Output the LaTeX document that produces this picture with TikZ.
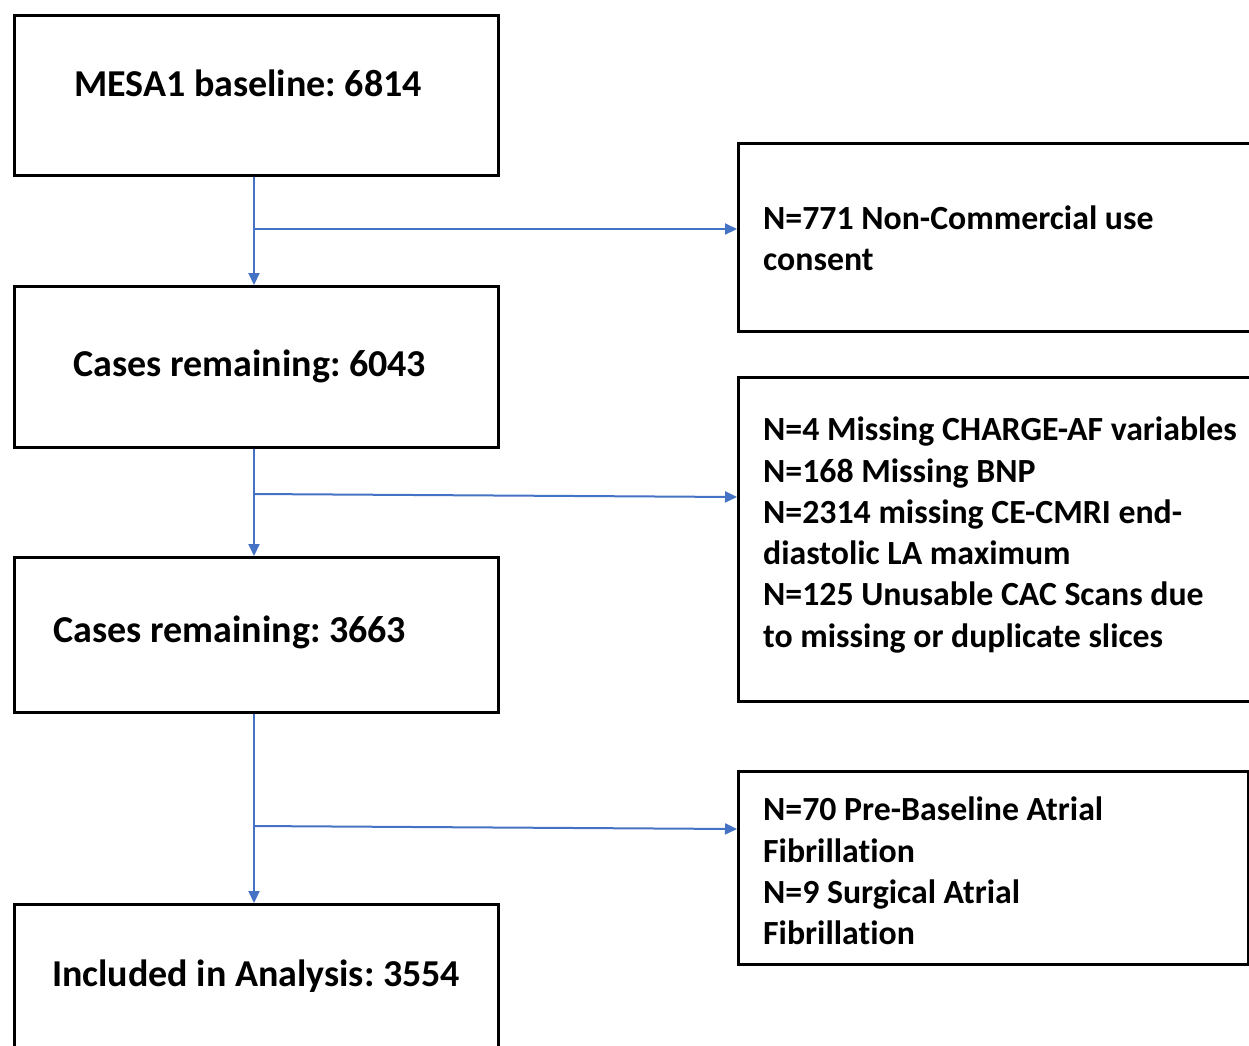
\documentclass[tikz,border=0pt]{standalone}
\usepackage{fontspec}
\setmainfont{Carlito}[Ligatures=NoCommon]
\usetikzlibrary{arrows.meta}
\definecolor{flowblue}{HTML}{4472C4}
\frenchspacing
\tikzset{
  x=1pt,y=-1pt,
  box/.style={draw=black,line width=2.8pt,rectangle,inner sep=0pt,anchor=north west},
  bigtxt/.style={inner sep=0pt,font=\fontsize{38}{45}\selectfont\bfseries},
  smalltxt/.style={inner sep=0pt,anchor=west,align=left,font=\fontsize{33.8}{41.3}\selectfont\bfseries},
  flow/.style={draw=flowblue,line width=2pt},
  arr/.style={flow,-{Triangle[length=12pt,width=11pt]}}
}
\begin{document}
\begin{tikzpicture}
\useasboundingbox (0,0) rectangle (1249,1045);
\clip (0,0) rectangle (1249,1045);
% left boxes
\node[box,minimum width=484pt,minimum height=160pt] (b1) at (13,14) {};
\node[box,minimum width=484pt,minimum height=161pt] (b2) at (13,285) {};
\node[box,minimum width=484pt,minimum height=155pt] (b3) at (13,556) {};
\node[box,minimum width=484pt,minimum height=160pt] (b4) at (13,903) {};
% right boxes
\node[box,minimum width=520pt,minimum height=188pt] (r1) at (737,142) {};
\node[box,minimum width=520pt,minimum height=324pt] (r2) at (737,376) {};
\node[box,minimum width=510pt,minimum height=193pt] (r3) at (737,770) {};
% texts
\node[bigtxt] (t1) at (248,83) {MESA1 baseline: 6814};
\node[bigtxt] (t2) at (250,366) {Cases remaining: 6043};
\node[bigtxt] (t3) at (230,632) {Cases remaining: 3663};
\node[bigtxt] (t4) at (256,976) {Included in Analysis: 3554};
\node[smalltxt] (s1) at (763,238) {N=771 Non-Commercial use\\consent};
\node[smalltxt] (s2) at (763,535) {N=4 Missing CHARGE-AF variables\\N=168 Missing BNP\\N=2314 missing CE-CMRI end-\\diastolic LA maximum\\N=125 Unusable CAC Scans due\\to missing or duplicate slices};
\node[smalltxt] (s3) at (763,871) {N=70 Pre-Baseline Atrial\\Fibrillation\\N=9 Surgical Atrial\\Fibrillation};
% connectors
\coordinate (j1) at (254,229);
\coordinate (j2) at (254,494);
\coordinate (j3) at (254,826);
\coordinate (e2) at (737,497);
\coordinate (e3) at (737,829);
\draw[arr] (b1.south -| j1) -- (b2.north -| j1);
\draw[arr] (j1) -- (j1 -| r1.west);
\draw[arr] (b2.south -| j2) -- (b3.north -| j2);
\draw[arr] (j2) -- (e2);
\draw[arr] (b3.south -| j3) -- (b4.north -| j3);
\draw[arr] (j3) -- (e3);
\end{tikzpicture}
\end{document}
